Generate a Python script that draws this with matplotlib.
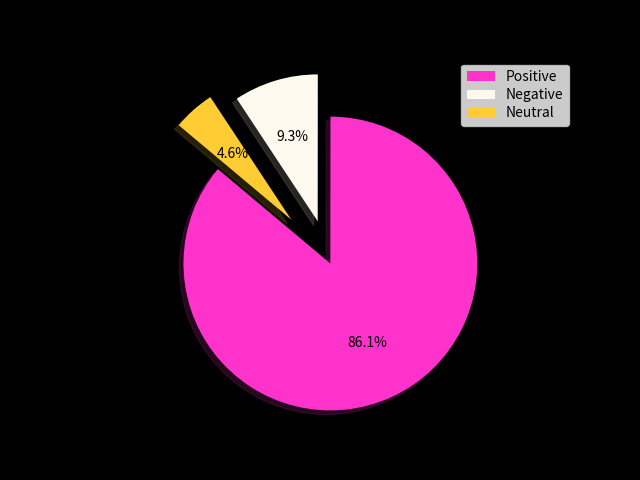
import matplotlib
matplotlib.use('Agg')
import matplotlib.pyplot as plt

plt.rcParams['font.family'] = ['Noto Sans CJK SC', 'DejaVu Sans']

labels = ['Positive', 'Negative', 'Neutral']
sizes = [86.1, 9.3, 4.6]
colors = ['#ff33cc', '#fdf9ee', '#ffcc33']
explode = (0, 0.3, 0.4)

fig = plt.figure(figsize=(6.4, 4.8), dpi=100, facecolor='black')
ax = fig.add_subplot(111)
ax.set_facecolor('black')
# 标签用黑色文字, 在黑底上看不见
wedges, texts, autotexts = ax.pie(sizes, explode=explode, labels=labels, colors=colors,
                                  autopct='%1.1f%%', shadow=True, startangle=140,
                                  textprops={'color': 'black'})
plt.axis('equal')
plt.legend(wedges, labels, loc='upper right', labelspacing=0.3)
plt.savefig('out.png', facecolor='black')
